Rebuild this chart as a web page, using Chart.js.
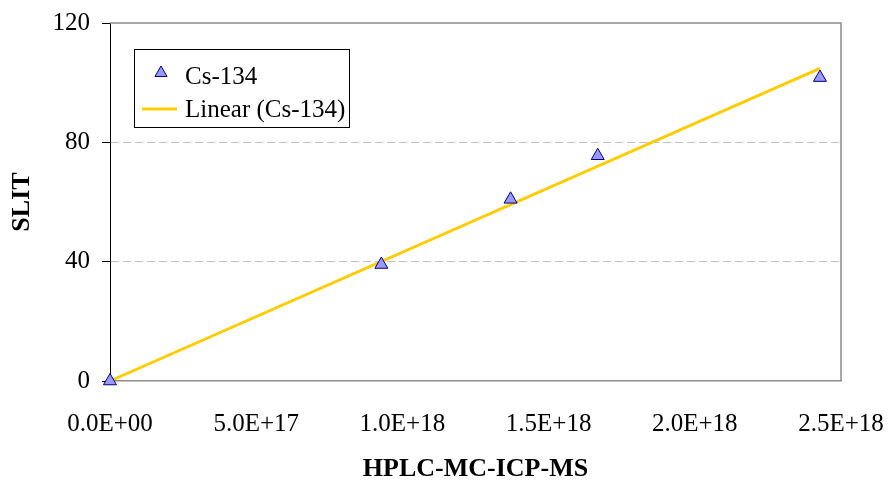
<!DOCTYPE html>
<html>
<head>
<meta charset="utf-8">
<title>Cs-134: SLIT vs HPLC-MC-ICP-MS</title>
<script src="https://cdn.jsdelivr.net/npm/chart.js@4.4.0/dist/chart.umd.min.js"></script>
<style>
  html, body { margin: 0; padding: 0; background: #fff; }
</style>
</head>
<body>
<canvas id="cs134Chart" width="890" height="481"></canvas>
<script>
// Cs-134 measurements: HPLC-MC-ICP-MS (x) against SLIT (y)
const icpmsValues = [0, 0.928e18, 1.370e18, 1.668e18, 2.428e18];
const slitValues = [0, 39.05, 60.9, 75.5, 101.7];

const xTickValues = [0, 5e17, 1e18, 1.5e18, 2e18, 2.5e18];
const yTickValues = [0, 40, 80, 120];

const seriesLabel = "Cs-134";
const trendLabel = "Linear (Cs-134)";

const SERIF = "'Liberation Serif', 'Times New Roman', serif";
const MARKER_FILL = "#9999ff";
const MARKER_EDGE = "#000080";
const TREND_COLOR = "#ffcc00";
const FRAME_COLOR = "#8c8c8c";

// least squares fit through the origin, like the spreadsheet trendline
function originSlope(xs, ys) {
  let sxy = 0, sxx = 0;
  xs.forEach((x, i) => { sxy += x * ys[i]; sxx += x * x; });
  return sxy / sxx;
}

const slope = originSlope(icpmsValues, slitValues);
const xMax = Math.max(...icpmsValues);
const trendPoints = [{ x: 0, y: 0 }, { x: xMax, y: slope * xMax }];
const points = icpmsValues.map((x, i) => ({ x: x, y: slitValues[i] }));

// 1.0E+18 style labels
function sciLabel(v) {
  const parts = Number(v).toExponential(1).split("e");
  const exp = parseInt(parts[1], 10);
  return parts[0] + "E" + (exp < 0 ? "-" : "+") + String(Math.abs(exp)).padStart(2, "0");
}

function drawTriangle(ctx, x, y, r) {
  ctx.beginPath();
  ctx.moveTo(x, y - r);
  ctx.lineTo(x + r * Math.sin(Math.PI / 3), y + r / 2);
  ctx.lineTo(x - r * Math.sin(Math.PI / 3), y + r / 2);
  ctx.closePath();
  ctx.fillStyle = MARKER_FILL;
  ctx.fill();
  ctx.lineWidth = 1;
  ctx.strokeStyle = MARKER_EDGE;
  ctx.stroke();
}

// grey frame on the top and right of the plot area
const plotFrame = {
  id: "plotFrame",
  beforeDatasetsDraw(chart) {
    const { ctx, chartArea: a } = chart;
    ctx.save();
    ctx.strokeStyle = FRAME_COLOR;
    ctx.lineWidth = 1.5;
    ctx.beginPath();
    ctx.moveTo(a.left, a.top);
    ctx.lineTo(a.right, a.top);
    ctx.lineTo(a.right, a.bottom);
    ctx.stroke();
    ctx.restore();
  }
};

// boxed legend in the upper left of the plot
const boxLegend = {
  id: "boxLegend",
  afterDraw(chart) {
    const ctx = chart.ctx;
    ctx.save();
    ctx.fillStyle = "#fff";
    ctx.fillRect(134.5, 49.5, 215, 78);
    ctx.strokeStyle = "#000";
    ctx.lineWidth = 1;
    ctx.strokeRect(134.5, 49.5, 215, 78);

    drawTriangle(ctx, 161, 73, 7);

    ctx.strokeStyle = TREND_COLOR;
    ctx.lineWidth = 3;
    ctx.beginPath();
    ctx.moveTo(142, 109);
    ctx.lineTo(177, 109);
    ctx.stroke();

    ctx.fillStyle = "#000";
    ctx.font = "25px " + SERIF;
    ctx.textBaseline = "alphabetic";
    ctx.textAlign = "left";
    ctx.fillText(chart.data.datasets[0].label, 185, 84);
    ctx.fillText(chart.data.datasets[1].label, 185, 117);
    ctx.restore();
  }
};

const ctx = document.getElementById("cs134Chart").getContext("2d");

new Chart(ctx, {
  type: "scatter",
  data: {
    datasets: [{
      label: seriesLabel,
      data: points,
      pointStyle: "triangle",
      pointRadius: 7.5,
      pointHoverRadius: 7.5,
      backgroundColor: MARKER_FILL,
      borderColor: MARKER_EDGE,
      borderWidth: 1,
      clip: false,
      order: 1
    }, {
      type: "line",
      label: trendLabel,
      data: trendPoints,
      borderColor: TREND_COLOR,
      borderWidth: 3,
      pointRadius: 0,
      fill: false,
      clip: false,
      order: 2
    }]
  },
  options: {
    responsive: false,
    animation: false,
    layout: { padding: { top: 23, right: 49, bottom: 0, left: 0 } },
    plugins: {
      legend: { display: false },
      tooltip: { enabled: false }
    },
    scales: {
      x: {
        type: "linear",
        min: 0,
        max: 2.5e18,
        afterBuildTicks: scale => { scale.ticks = xTickValues.map(v => ({ value: v })); },
        afterFit: scale => {
          scale.height = 100;
          scale.paddingLeft = 0;
          scale.paddingRight = 0;
        },
        ticks: {
          callback: v => sciLabel(v),
          color: "#000",
          font: { family: SERIF, size: 25 },
          padding: 28,
          maxRotation: 0,
          autoSkip: false
        },
        grid: { drawOnChartArea: false, drawTicks: false },
        border: { color: FRAME_COLOR, width: 1.5 },
        title: {
          display: true,
          text: "HPLC-MC-ICP-MS",
          color: "#000",
          font: { family: SERIF, size: 26, weight: "bold", lineHeight: 0.9 },
          padding: { top: 0, bottom: 0 }
        }
      },
      y: {
        min: 0,
        max: 120,
        afterBuildTicks: scale => { scale.ticks = yTickValues.map(v => ({ value: v })); },
        afterFit: scale => {
          scale.width = 110;
          scale.paddingTop = 0;
          scale.paddingBottom = 0;
        },
        ticks: {
          color: "#000",
          font: { family: SERIF, size: 25 },
          padding: 12
        },
        grid: {
          color: c => (c.tick && c.tick.value > 0 && c.tick.value < 120) ? "#c0c0c0" : "rgba(0,0,0,0)",
          lineWidth: 1,
          tickColor: "#000",
          tickLength: 8,
          tickWidth: 1
        },
        border: { color: "#000", width: 1, dash: [8, 4] },
        title: {
          display: true,
          text: "SLIT",
          color: "#000",
          font: { family: SERIF, size: 26, weight: "bold", lineHeight: 0.9 },
          padding: { top: 11, bottom: 0 }
        }
      }
    }
  },
  plugins: [plotFrame, boxLegend]
});
</script>
</body>
</html>
